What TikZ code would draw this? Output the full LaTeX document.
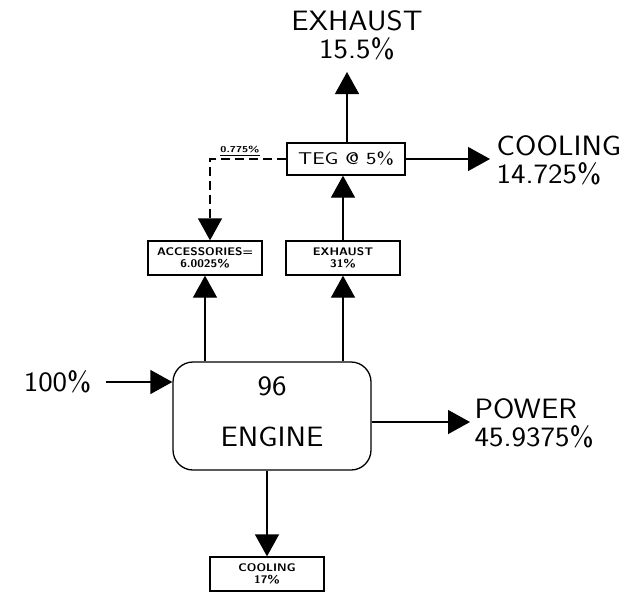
\documentclass[tikz,border=0pt]{standalone}
\usepackage{graphicx}
\usetikzlibrary{arrows.meta}
\newcommand\hstr[1]{\scalebox{1.1}[1]{#1}}
\newcommand\sstr[1]{\scalebox{1.1}[1]{#1}}
\newcommand\tstr[1]{\scalebox{1.3}[1]{#1}}
\begin{document}
\begin{tikzpicture}[x=1pt,y=-1pt,
  line width=1.3pt,
  arr/.style={-{Triangle[length=22pt,width=24pt]}},
  smallbox/.style={draw,line width=1.3pt,minimum width=114pt,minimum height=34pt,align=center,inner sep=1pt,font=\sffamily\bfseries\fontsize{11}{11.5}\selectfont},
  big/.style={font=\sffamily\fontsize{28}{28}\selectfont,align=left,inner sep=0pt},
  ]
\useasboundingbox (0,0) rectangle (628,595);
% engine
\node[draw,rounded corners=20pt,minimum width=198pt,minimum height=108pt,line width=1.3pt] (eng) at (272,416) {};
\node[big] (n96) at (272,386) {\hstr{96}};
\node[big] (neng) at (272,437) {\hstr{ENGINE}};
% boxes
\node[smallbox] (acc) at (205,258) {\sstr{ACCESSORIES=}\\\sstr{6.0025\%}};
\node[smallbox] (exh) at (343,258) {\sstr{EXHAUST}\\\sstr{31\%}};
\node[smallbox] (cool) at (267,574) {\sstr{COOLING}\\\sstr{17\%}};
\node[draw,line width=1.3pt,minimum width=118pt,minimum height=32pt,inner sep=1pt,font=\sffamily\fontsize{17}{19}\selectfont] (teg) at (346,159) {\tstr{TEG @ 5\%}};
% labels
\node[big,anchor=east] (in) at (92,382) {\hstr{100\%}};
\node[big,anchor=west,align=left] (pow) at (474,423) {\hstr{POWER}\\\hstr{45.9375\%}};
\node[big,align=center] (exo) at (357,35) {\hstr{EXHAUST}\\\hstr{15.5\%}};
\node[big,anchor=west,align=left] (coo) at (496,160) {\hstr{COOLING}\\\hstr{14.725\%}};
% coordinates
\coordinate (inS) at (106,382);
\coordinate (powT) at (470,422);
\coordinate (exoT) at (347,72);
\coordinate (cooT) at (490,159);
\coordinate (dashC) at (210,159);
% connectors
\draw[arr] (inS) -- (inS -| eng.west);
\draw[arr] (powT -| eng.east) -- (powT);
\draw[arr] (acc.south |- eng.north) -- (acc.south);
\draw[arr] (exh.south |- eng.north) -- (exh.south);
\draw[arr] (eng.south -| cool.north) -- (cool.north);
\draw[arr] (exh.north) -- (exh.north |- teg.south);
\draw[arr] (exoT |- teg.north) -- (exoT);
\draw[arr] (teg.east) -- (cooT);
\draw[arr,dash pattern=on 9pt off 5pt] (teg.west) -- (dashC) -- (dashC |- acc.north);
\node[font=\sffamily\bfseries\fontsize{8.5}{9}\selectfont,anchor=south,inner sep=1pt] (lbl) at (240,157) {\tstr{\underline{0.775\%}}};
\end{tikzpicture}
\end{document}
